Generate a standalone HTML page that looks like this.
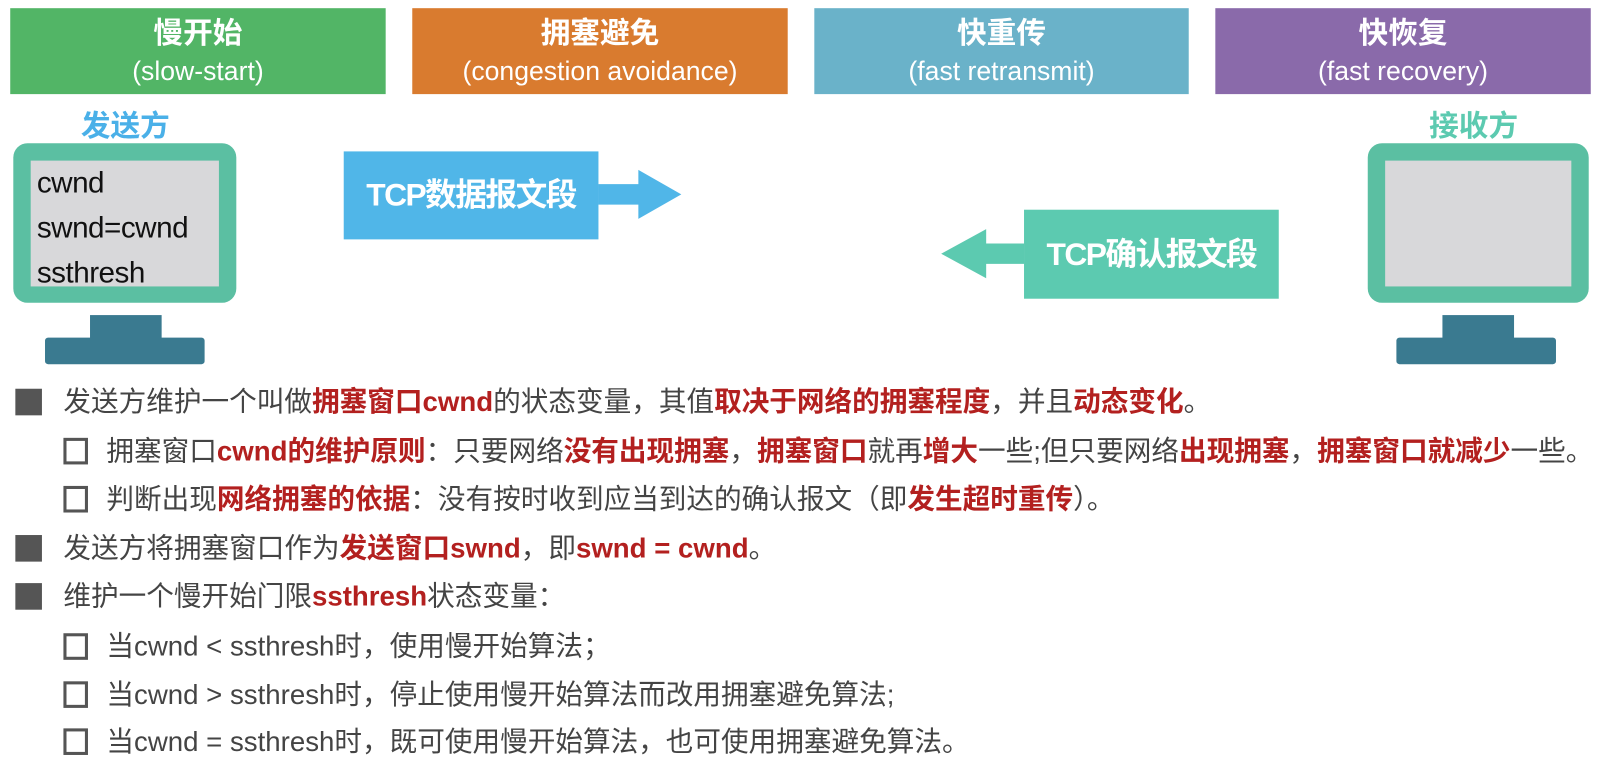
<!DOCTYPE html>
<html><head><meta charset="utf-8"><style>
*{margin:0;padding:0;box-sizing:border-box}
body{width:1604px;height:764px;background:#fff;position:relative;overflow:hidden;font-family:"Liberation Sans","Noto Sans CJK SC",sans-serif}
#w{position:absolute;left:0;top:0;width:1568px;height:747px;transform:scale(1.023);transform-origin:0 0}
.a{position:absolute}
.hd{position:absolute;top:8px;height:84px;color:#fff;text-align:center;font-weight:bold;font-size:29px;line-height:36px;padding-top:7px}
.hd span{font-weight:normal;font-size:26px}
.ln{position:absolute;font-size:27px;color:#444;white-space:nowrap;line-height:30px}
.r{color:#b3201f;font-weight:bold}
.fb{position:absolute;left:15px;width:26px;height:26px;background:#555}
.hb{position:absolute;left:62px;width:24px;height:26px;border:3px solid #555}
</style></head><body><div id="w">
<div class="hd" style="left:10px;width:367px;background:#52b566">慢开始<br><span>(slow-start)</span></div>
<div class="hd" style="left:403px;width:367px;background:#d97b2f">拥塞避免<br><span>(congestion avoidance)</span></div>
<div class="hd" style="left:796px;width:366px;background:#6ab2c9">快重传<br><span>(fast retransmit)</span></div>
<div class="hd" style="left:1188px;width:367px;background:#8a6aaa">快恢复<br><span>(fast recovery)</span></div>

<div class="a" style="left:79px;top:100px;font-size:29px;font-weight:bold;color:#4ab0e8">发送方</div>
<div class="a" style="left:1397px;top:100px;font-size:29px;font-weight:bold;color:#5ccab0">接收方</div>

<div class="a" style="left:13px;top:140px;width:218px;height:156px;background:#5bbfa2;border-radius:14px"></div>
<div class="a" style="left:30px;top:157px;width:184px;height:123px;background:#d8d8da;font-size:29px;line-height:44px;padding:0 0 0 6px;color:#111;letter-spacing:-0.5px">cwnd<br>swnd=cwnd<br>ssthresh</div>
<div class="a" style="left:88px;top:308px;width:70px;height:24px;background:#3a7a90"></div>
<div class="a" style="left:44px;top:330px;width:156px;height:26px;background:#3a7a90;border-radius:3px"></div>

<div class="a" style="left:1337px;top:140px;width:216px;height:156px;background:#5bbfa2;border-radius:14px"></div>
<div class="a" style="left:1354px;top:157px;width:182px;height:123px;background:#d8d8da"></div>
<div class="a" style="left:1410px;top:308px;width:70px;height:24px;background:#3a7a90"></div>
<div class="a" style="left:1365px;top:330px;width:156px;height:26px;background:#3a7a90;border-radius:3px"></div>

<svg class="a" style="left:0;top:0" width="1568" height="747">
<rect x="336" y="148" width="249" height="86" fill="#50b6e8"/>
<polygon points="585,180 624,180 624,166 666,190 624,214 624,200 585,200" fill="#50b6e8"/>
<rect x="1001" y="205" width="249" height="87" fill="#5ccab0"/>
<polygon points="1001,238 964,238 964,224 920,248 964,272 964,258 1001,258" fill="#5ccab0"/>
</svg>
<div class="a" style="left:336px;top:148px;width:249px;height:86px;line-height:86px;text-align:center;color:#fff;font-weight:bold;font-size:31px;letter-spacing:-1.5px">TCP数据报文段</div>
<div class="a" style="left:1001px;top:205px;width:249px;height:87px;line-height:87px;text-align:center;color:#fff;font-weight:bold;font-size:31px;letter-spacing:-1.5px">TCP确认报文段</div>

<div class="fb" style="top:380px"></div>
<div class="ln" style="left:62px;top:378px">发送方维护一个叫做<span class="r">拥塞窗口cwnd</span>的状态变量，其值<span class="r">取决于网络的拥塞程度</span>，并且<span class="r">动态变化</span>。</div>
<div class="hb" style="top:428px"></div>
<div class="ln" style="left:104px;top:426px">拥塞窗口<span class="r">cwnd的维护原则</span>：只要网络<span class="r">没有出现拥塞</span>，<span class="r">拥塞窗口</span>就再<span class="r">增大</span>一些;但只要网络<span class="r">出现拥塞</span>，<span class="r">拥塞窗口就减少</span>一些。</div>
<div class="hb" style="top:475px"></div>
<div class="ln" style="left:104px;top:473px">判断出现<span class="r">网络拥塞的依据</span>：没有按时收到应当到达的确认报文（即<span class="r">发生超时重传</span>）。</div>
<div class="fb" style="top:523px"></div>
<div class="ln" style="left:62px;top:521px">发送方将拥塞窗口作为<span class="r">发送窗口swnd</span>，即<span class="r">swnd = cwnd</span>。</div>
<div class="fb" style="top:570px"></div>
<div class="ln" style="left:62px;top:568px">维护一个慢开始门限<span class="r">ssthresh</span>状态变量：</div>
<div class="hb" style="top:619px"></div>
<div class="ln" style="left:104px;top:617px">当cwnd &lt; ssthresh时，使用慢开始算法；</div>
<div class="hb" style="top:666px"></div>
<div class="ln" style="left:104px;top:664px">当cwnd &gt; ssthresh时，停止使用慢开始算法而改用拥塞避免算法;</div>
<div class="hb" style="top:712px"></div>
<div class="ln" style="left:104px;top:710px">当cwnd = ssthresh时，既可使用慢开始算法，也可使用拥塞避免算法。</div>
</div></body></html>
